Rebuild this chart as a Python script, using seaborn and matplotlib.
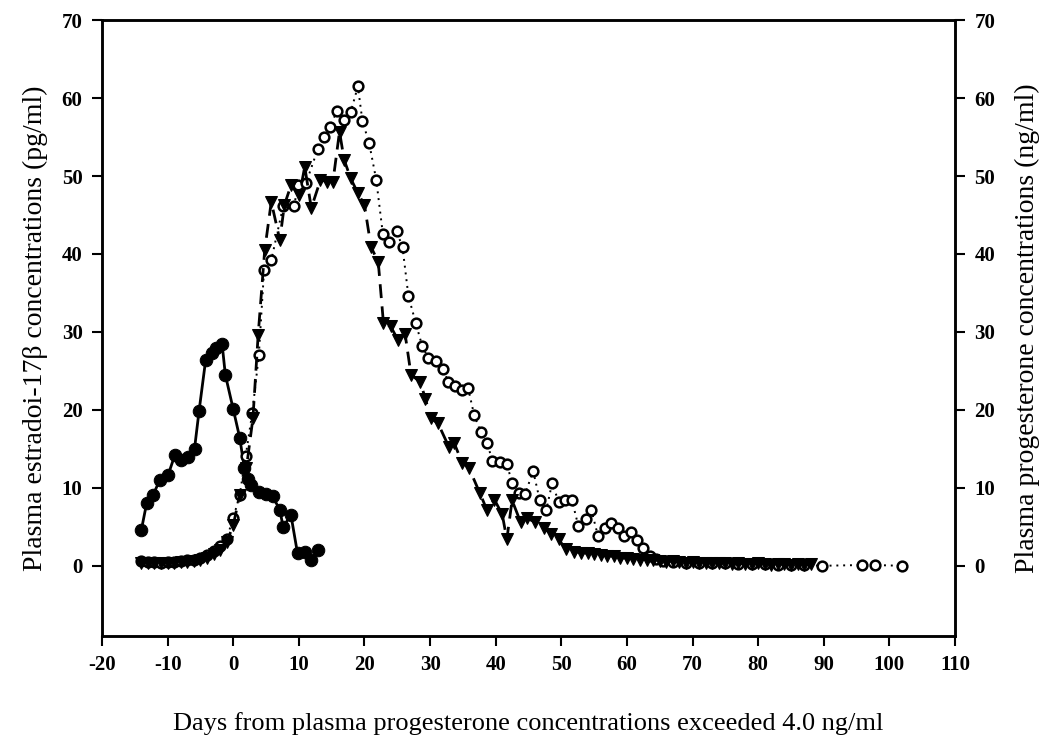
"""Plasma estradiol and progesterone profiles around the luteal phase."""

import matplotlib
matplotlib.use("Agg")
import matplotlib.pyplot as plt
import pandas as pd
import seaborn as sns

# Estradiol-17beta (pg/ml), filled circles, left axis
estradiol_days = [-14.0, -13.2, -12.2, -11.2, -9.9, -8.9, -7.9, -6.9, -5.9, -5.2,
                  -4.2, -3.3, -2.6, -1.7, -1.2, 0.0, 1.0, 1.7, 2.2, 2.7,
                  4.0, 5.0, 6.0, 7.1, 7.6, 8.8, 9.8, 10.9, 11.9, 12.9]
estradiol_vals = [4.6, 8.0, 9.1, 11.0, 11.7, 14.2, 13.6, 14.0, 15.0, 19.9,
                  26.4, 27.3, 27.9, 28.5, 24.5, 20.1, 16.4, 12.5, 11.2, 10.4,
                  9.5, 9.2, 8.9, 7.2, 5.0, 6.5, 1.6, 1.8, 0.8, 2.0]

# Progesterone (ng/ml), open circles, right axis
prog_days = [-14, -13, -12, -11, -10, -9, -8, -7, -6, -5, -4, -3, -2,
             -1.0, 0.0, 1.0, 1.9, 2.9, 3.9, 4.7, 5.8, 7.6, 9.3,
             9.8, 11.1, 12.9, 13.8, 14.8, 15.8, 16.9, 17.9, 19.0, 19.7,
             20.7, 21.8, 22.8, 23.8, 24.9, 25.8, 26.7, 27.8, 28.8, 29.7,
             30.9, 31.9, 32.8, 33.8, 34.8, 35.8, 36.7, 37.7, 38.7, 39.5,
             40.7, 41.7, 42.5, 43.5, 44.5, 45.7, 46.7, 47.7, 48.6, 49.6,
             50.6, 51.6, 52.6, 53.7, 54.6, 55.6, 56.6, 57.6, 58.6, 59.5,
             60.6, 61.5, 62.5, 63.5, 64.5, 65.5, 67, 69, 71, 73,
             75, 77, 79, 81, 83, 85, 87, 89.7, 95.8, 97.8,
             101.9]
prog_vals = [0.6, 0.5, 0.5, 0.4, 0.5, 0.5, 0.6, 0.7, 0.8, 1.0, 1.4, 1.9, 2.6,
             3.5, 6.1, 9.1, 14.1, 19.6, 27.0, 37.9, 39.2, 46.1, 46.1,
             48.8, 49.1, 53.5, 55.0, 56.3, 58.4, 57.2, 58.2, 61.5, 57.0,
             54.3, 49.5, 42.6, 41.5, 42.9, 40.9, 34.6, 31.2, 28.2, 26.7,
             26.3, 25.3, 23.6, 23.1, 22.6, 22.8, 19.4, 17.2, 15.8, 13.4,
             13.3, 13.1, 10.6, 9.3, 9.2, 12.2, 8.5, 7.1, 10.6, 8.2,
             8.5, 8.5, 5.1, 6.0, 7.1, 3.8, 4.8, 5.5, 4.8, 3.8,
             4.4, 3.3, 2.3, 1.3, 0.9, 0.6, 0.5, 0.4, 0.4, 0.3,
             0.3, 0.2, 0.2, 0.2, 0.1, 0.1, 0.1, 0.0, 0.1, 0.1,
             0.0]

# Second progesterone profile, filled down-triangles
tri_days = [-14, -13, -12, -11, -10, -9, -8, -7, -6, -5, -4, -3, -2, -1, 0,
            1.0, 2.0, 3.0, 3.8, 4.8, 5.8, 7.1, 7.8, 8.8, 10.1,
            10.9, 11.9, 13.3, 14.3, 15.2, 16.2, 16.9, 17.9, 19.0, 20.0,
            21.0, 22.1, 22.9, 24.0, 25.1, 26.2, 27.1, 28.5, 29.3, 30.1,
            31.2, 32.9, 33.7, 34.9, 35.9, 37.6, 38.7, 39.8, 41.0, 41.7,
            42.5, 43.8, 44.8, 46.0, 47.3, 48.4, 49.6, 50.7,
            52, 53, 54, 55, 56, 57, 58, 59, 60, 61,
            62, 63, 64, 65, 66, 67, 68, 69, 70, 71,
            72, 73, 74, 75, 76, 77, 78, 79, 80, 81,
            82, 83, 84, 85, 86, 87, 88]
tri_vals = [0.3, 0.4, 0.3, 0.3, 0.4, 0.4, 0.5, 0.5, 0.6, 0.8, 1.0, 1.5, 2.0, 3.0, 5.2,
            9.1, 12.5, 18.9, 29.6, 40.5, 46.7, 41.8, 46.3, 48.8, 47.6,
            51.2, 45.9, 49.5, 49.3, 49.3, 55.7, 52.1, 49.7, 47.8, 46.3,
            40.9, 39.0, 31.1, 30.7, 29.0, 29.7, 24.5, 23.6, 21.4, 18.9,
            18.3, 15.2, 15.7, 13.2, 12.6, 9.3, 7.1, 8.5, 6.6, 3.4,
            8.4, 5.6, 6.1, 5.6, 4.9, 4.1, 3.4, 2.1,
            1.8, 1.7, 1.6, 1.5, 1.4, 1.3, 1.2, 1.0, 1.0, 0.9,
            0.8, 0.8, 0.7, 0.6, 0.5, 0.6, 0.5, 0.4, 0.5, 0.4,
            0.3, 0.4, 0.3, 0.3, 0.2, 0.3, 0.2, 0.2, 0.3, 0.2,
            0.1, 0.2, 0.2, 0.1, 0.2, 0.1, 0.2]

x_ticks = [-20, -10, 0, 10, 20, 30, 40, 50, 60, 70, 80, 90, 100, 110]
y_ticks = [0, 10, 20, 30, 40, 50, 60, 70]


def main() -> None:
    sns.set_style("ticks")
    plt.rcParams["font.family"] = ["Liberation Serif", "DejaVu Serif"]
    plt.rcParams["axes.labelcolor"] = "black"
    plt.rcParams["text.color"] = "black"

    e2 = pd.DataFrame({"day": estradiol_days, "value": estradiol_vals})
    p4 = pd.DataFrame({"day": prog_days, "value": prog_vals})
    tri = pd.DataFrame({"day": tri_days, "value": tri_vals})

    fig = plt.figure(figsize=(10.46, 7.46), dpi=100)
    ax = fig.add_axes([0.0975, 0.1475, 0.8155, 0.8255])
    ax2 = ax.twinx()

    sns.lineplot(data=e2, x="day", y="value", ax=ax, estimator=None, sort=False,
                 color="black", linewidth=2.0, marker="o", markersize=9,
                 markerfacecolor="black", markeredgecolor="black", zorder=3)

    sns.lineplot(data=p4, x="day", y="value", ax=ax2, estimator=None, sort=False,
                 color="black", linewidth=1.4, linestyle=(0, (1, 2.5)),
                 marker="o", markersize=7, markerfacecolor="white",
                 markeredgecolor="black", markeredgewidth=1.8, zorder=2)

    sns.lineplot(data=tri, x="day", y="value", ax=ax2, estimator=None, sort=False,
                 color="black", linewidth=2.0, linestyle=(0, (5, 3)),
                 marker="v", markersize=9, markerfacecolor="black",
                 markeredgecolor="black", zorder=3)

    for a in (ax, ax2):
        a.set_xlim(-20, 110)
        a.set_ylim(-9, 70)
        a.set_yticks(y_ticks)
        for side in ("top", "right", "left", "bottom"):
            a.spines[side].set_visible(True)
            a.spines[side].set_linewidth(1.8)
            a.spines[side].set_color("black")
        a.tick_params(axis="both", direction="out", length=7, width=1.5,
                      labelsize=15, pad=7, colors="black")

    ax.set_xticks(x_ticks)
    ax.set_xticklabels([str(t) for t in x_ticks], fontweight="bold")
    ax.set_yticklabels([str(t) for t in y_ticks], fontweight="bold")
    ax2.set_yticklabels([str(t) for t in y_ticks], fontweight="bold")

    ax.set_xlabel("Days from plasma progesterone concentrations exceeded 4.0 ng/ml",
                  fontsize=19, labelpad=26, color="black")
    ax.set_ylabel("Plasma estradoi-17β concentrations (pg/ml)", fontsize=20,
                  labelpad=10, color="black")
    ax2.set_ylabel("Plasma progesterone concentrations (ng/ml)", fontsize=20,
                   labelpad=14, color="black")

    fig.savefig("out.png", dpi=100)
    plt.close(fig)


if __name__ == "__main__":
    main()
